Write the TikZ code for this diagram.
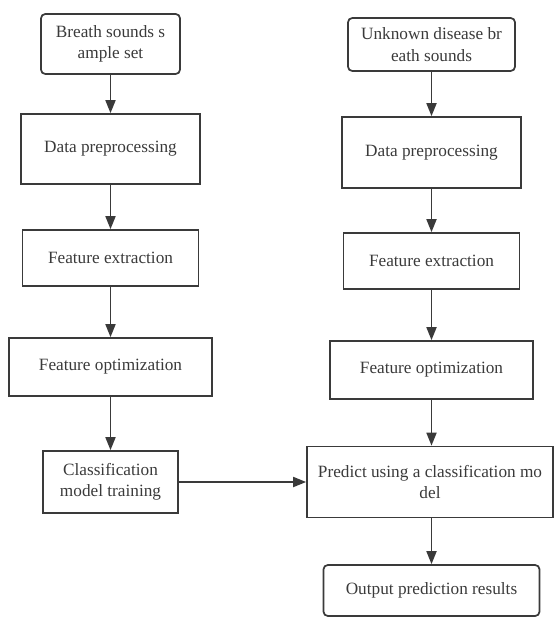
\documentclass[tikz,border=0pt]{standalone}
\usepackage{fontspec}
\setmainfont{Liberation Serif}
\usepackage{tikz}
\usetikzlibrary{shapes,arrows.meta}
\definecolor{ink}{HTML}{3A3A3A}
\tikzstyle{block} = [rectangle, draw=ink, line width=1pt, text=ink, align=center, inner sep=2pt]
\tikzstyle{start} = [block, rounded corners=2.5pt]
\tikzstyle{line} = [draw=ink, line width=1pt, -{Triangle[length=7.5pt, width=5.8pt]}]

\begin{document}
\begin{tikzpicture}[x=0.58pt, y=-0.58pt, font=\fontsize{10}{12.5}\selectfont]

\useasboundingbox (0, 0) rectangle (555, 617);

% training branch
\node [start, minimum width=139*0.58pt, minimum height=60*0.58pt] at (110.5, 44) (sampleset) {Breath sounds s\\ample set};
\node [block, minimum width=179*0.58pt, minimum height=70*0.58pt] at (110.5, 149) (preL) {Data preprocessing};
\node [block, minimum width=176*0.58pt, minimum height=56*0.58pt] at (110.5, 258) (extL) {Feature extraction};
\node [block, minimum width=203*0.58pt, minimum height=58*0.58pt] at (110.5, 367) (optL) {Feature optimization};
\node [block, minimum width=135*0.58pt, minimum height=62*0.58pt] at (110.5, 482) (training) {Classification\\model training};
\path [line] (sampleset.south) to (preL.north);
\path [line] (preL.south) to (extL.north);
\path [line] (extL.south) to (optL.north);
\path [line] (optL.south) to (training.north);

% prediction branch
\node [start, minimum width=167*0.58pt, minimum height=53*0.58pt] at (431.5, 44.5) (unknown) {Unknown disease br\\eath sounds};
\node [block, minimum width=179*0.58pt, minimum height=71*0.58pt] at (431.5, 152.5) (preR) {Data preprocessing};
\node [block, minimum width=176*0.58pt, minimum height=56*0.58pt] at (431.5, 261) (extR) {Feature extraction};
\node [block, minimum width=203*0.58pt, minimum height=58*0.58pt] at (431.5, 370) (optR) {Feature optimization};
\node [block, minimum width=246*0.58pt, minimum height=71*0.58pt] at (430, 482) (predict) {Predict using a classification mo\\del};
\node [start, minimum width=216*0.58pt, minimum height=51*0.58pt] at (431.5, 590.5) (output) {Output prediction results};
\path [line] (unknown.south) to (preR.north);
\path [line] (preR.south) to (extR.north);
\path [line] (extR.south) to (optR.north);
\path [line] (optR.south) to (optR.south |- predict.north);
\path [line] (optR.south |- predict.south) to (output.north);

% model handed over
\path [line] (training.east) to (predict.west);

\end{tikzpicture}
\end{document}
